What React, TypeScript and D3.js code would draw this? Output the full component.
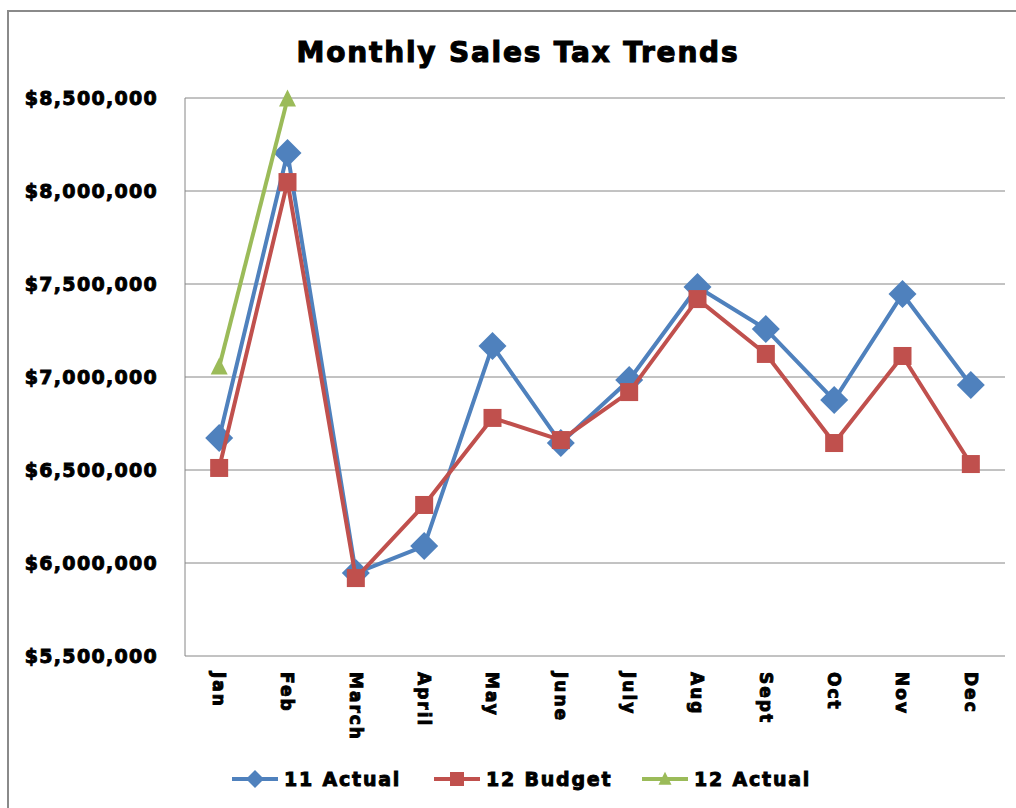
import React from "react";
import * as d3 from "d3";

const months = ["Jan", "Feb", "March", "April", "May", "June", "July", "Aug", "Sept", "Oct", "Nov", "Dec"];
const actual11 = [6672000, 8204000, 5946000, 6091000, 7167000, 6645000, 6984000, 7484000, 7258000, 6876000, 7446000, 6957000];
const budget12 = [6511000, 8048000, 5919000, 6312000, 6780000, 6661000, 6919000, 7419000, 7124000, 6645000, 7113000, 6532000];
const actual12 = [7054000, 8495000];
const yTicks = [5500000, 6000000, 6500000, 7000000, 7500000, 8000000, 8500000];
const seriesNames = ["11 Actual", "12 Budget", "12 Actual"];

const BLUE = "#4F81BD";
const RED = "#C0504D";
const GREEN = "#9BBB59";
const FONT = "'DejaVu Sans', sans-serif";

export default function App() {
  const W = 1016, H = 808;
  const left = 185, right = 1005, top = 98, bottom = 656;
  const x = d3.scalePoint<string>().domain(months).range([left, right]).padding(0.5);
  const y = d3.scaleLinear().domain([5500000, 8500000]).range([bottom, top]);
  const line = d3.line<number>().x((_, i) => x(months[i])!).y((d) => y(d));
  const fmt = (v: number) => "$" + d3.format(",")(v);

  const diamond = (cx: number, cy: number, r: number) =>
    `M${cx},${cy - r}L${cx + r},${cy}L${cx},${cy + r}L${cx - r},${cy}Z`;
  const tri = (cx: number, cy: number, s: number) =>
    `M${cx},${cy - s * 0.55}L${cx + s / 2},${cy + s * 0.45}L${cx - s / 2},${cy + s * 0.45}Z`;

  const legend = [
    { name: seriesNames[0], color: BLUE, x0: 232, tx: 284, kind: "d" },
    { name: seriesNames[1], color: RED, x0: 434, tx: 486, kind: "s" },
    { name: seriesNames[2], color: GREEN, x0: 642, tx: 694, kind: "t" },
  ];
  const ly = 779;
  const heavy = { stroke: "#000", strokeWidth: 0.9, paintOrder: "stroke" as const };

  return (
    <svg width={W} height={H} style={{ position: "absolute", left: 0, top: 0, background: "#fff" }} fontFamily={FONT}>
      <rect x={0} y={0} width={W} height={H} fill="#fff" />
      <rect x={8} y={11} width={1030} height={830} fill="none" stroke="#8a8a8a" strokeWidth={2} />
      <text x={518} y={62} textAnchor="middle" fontSize={28} fontWeight="bold" letterSpacing={1.8} fill="#000" {...heavy} strokeWidth={1.1}>
        Monthly Sales Tax Trends
      </text>
      {yTicks.map((t) => (
        <g key={t}>
          <line x1={left} x2={right} y1={y(t)} y2={y(t)} stroke="#868686" strokeWidth={1} />
          <text x={158} y={y(t)} dy="0.36em" textAnchor="end" fontSize={19} fontWeight="bold" letterSpacing={1.3} fill="#000" {...heavy}>
            {fmt(t)}
          </text>
        </g>
      ))}
      <line x1={left} x2={left} y1={top} y2={bottom} stroke="#868686" strokeWidth={1} />
      {months.map((m) => (
        <text
          key={m}
          transform={`translate(${x(m)},${672}) rotate(90)`}
          dy="0.36em"
          textAnchor="start"
          fontSize={17}
          fontWeight="bold"
          letterSpacing={2}
          fill="#000"
          {...heavy}
        >
          {m}
        </text>
      ))}
      <path d={line(actual11)!} fill="none" stroke={BLUE} strokeWidth={4} strokeLinejoin="round" />
      {actual11.map((v, i) => (
        <path key={i} d={diamond(x(months[i])!, y(v), 14)} fill={BLUE} />
      ))}
      <path d={line(budget12)!} fill="none" stroke={RED} strokeWidth={4} strokeLinejoin="round" />
      {budget12.map((v, i) => (
        <rect key={i} x={x(months[i])! - 9} y={y(v) - 9} width={18} height={18} fill={RED} />
      ))}
      <path d={line(actual12)!} fill="none" stroke={GREEN} strokeWidth={4} strokeLinejoin="round" />
      {actual12.map((v, i) => (
        <path key={i} d={tri(x(months[i])!, y(v), 17)} fill={GREEN} />
      ))}
      {legend.map((l) => (
        <g key={l.name}>
          <line x1={l.x0} x2={l.x0 + 46} y1={ly} y2={ly} stroke={l.color} strokeWidth={4} />
          {l.kind === "d" && <path d={diamond(l.x0 + 23, ly, 9)} fill={l.color} />}
          {l.kind === "s" && <rect x={l.x0 + 23 - 7} y={ly - 7} width={14} height={14} fill={l.color} />}
          {l.kind === "t" && <path d={tri(l.x0 + 23, ly, 13)} fill={l.color} />}
          <text x={l.tx} y={ly} dy="0.36em" fontSize={19} fontWeight="bold" letterSpacing={1.8} fill="#000" {...heavy}>
            {l.name}
          </text>
        </g>
      ))}
    </svg>
  );
}
